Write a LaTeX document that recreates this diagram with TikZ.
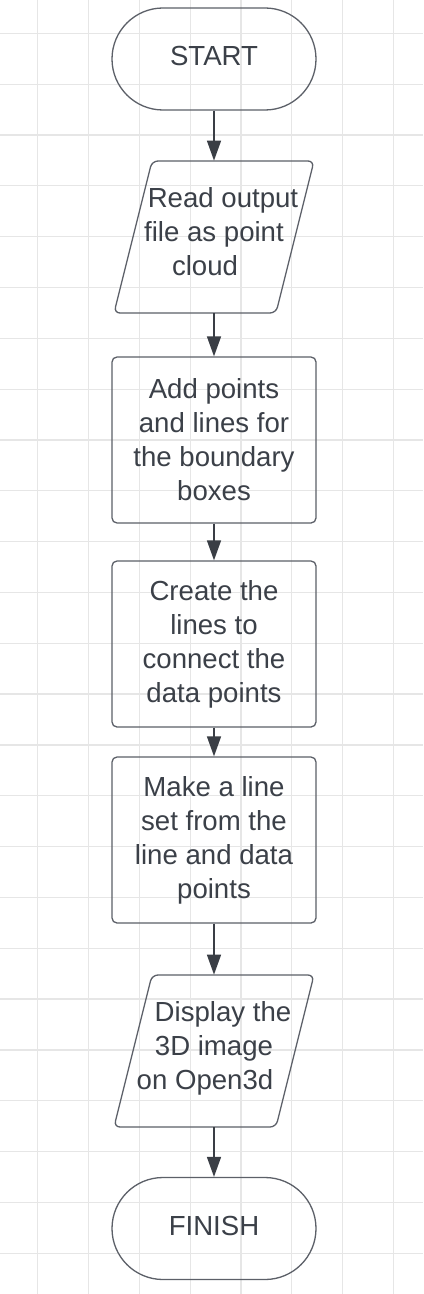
\documentclass[tikz,border=0pt]{standalone}
\usepackage{fontspec}
\setmainfont{Liberation Sans}
\usepackage{xcolor}
\usetikzlibrary{arrows.meta}
\definecolor{gridgray}{HTML}{E6E6E6}
\definecolor{edgegray}{HTML}{5C6068}
\definecolor{arrowgray}{HTML}{3A3E45}
\definecolor{textgray}{HTML}{3B4048}
\tikzset{
  terminal/.style={draw=edgegray, line width=0.65pt, rectangle, rounded corners=25.5pt,
    minimum width=102pt, minimum height=51pt, text depth=3pt, text=textgray},
  process/.style={draw=edgegray, line width=0.65pt, rectangle, rounded corners=2.5pt,
    minimum width=102pt, minimum height=83pt, align=center, text=textgray},
  iobox/.style={rectangle, minimum height=76pt, align=center, text depth=5.5pt, text=textgray},
  flow/.style={draw=arrowgray, line width=0.75pt, -{Triangle[length=10pt,width=7pt]}},
  gridline/.style={draw=gridgray, line width=0.6pt}
}

\begin{document}
\begin{tikzpicture}[x=0.5pt,y=-0.5pt,font=\fontsize{13.8pt}{17pt}\selectfont]
   \fill[white] (0,0) rectangle (423,1294);
   \useasboundingbox (0,0) rectangle (423,1294);
   % grid
   \foreach \k in {0,...,7}
      \draw[gridline] ({37.8+50.8*\k},0) -- ({37.8+50.8*\k},1294);
   \foreach \k in {0,...,24}
      \draw[gridline] (0,{33.3+50.83*\k}) -- (423,{33.3+50.83*\k});
   % steps
   \node[terminal] (start) at (214,59) {START};
   \node[iobox] (read) at (214,237) {\hspace*{9pt}Read output\\file as point\\cloud\hspace*{9pt}};
   \node[process] (add) at (214,440) {Add points\\and lines for\\the boundary\\boxes};
   \node[process] (create) at (214,644) {Create the\\lines to\\connect the\\data points};
   \node[process] (make) at (214,840) {Make a line\\set from the\\line and data\\points};
   \node[iobox] (show) at (214,1051) {\hspace*{9pt}Display the\\3D image\\on Open3d\hspace*{9pt}};
   \node[terminal] (finish) at (214,1228.5) {FINISH};
   % input/output boxes
   \foreach \n in {read,show}
      \draw[edgegray, line width=0.65pt, rounded corners=3pt, shift={(\n.center)}]
         (-62,-76) -- (100,-76) -- (62,76) -- (-100,76) -- cycle;
   % arrows
   \draw[flow] (start) -- (read);
   \draw[flow] (read) -- (add);
   \draw[flow] (add) -- (create);
   \draw[flow] (create) -- (make);
   \draw[flow] (make) -- (show);
   \draw[flow] (show) -- (finish);
\end{tikzpicture}
\end{document}
